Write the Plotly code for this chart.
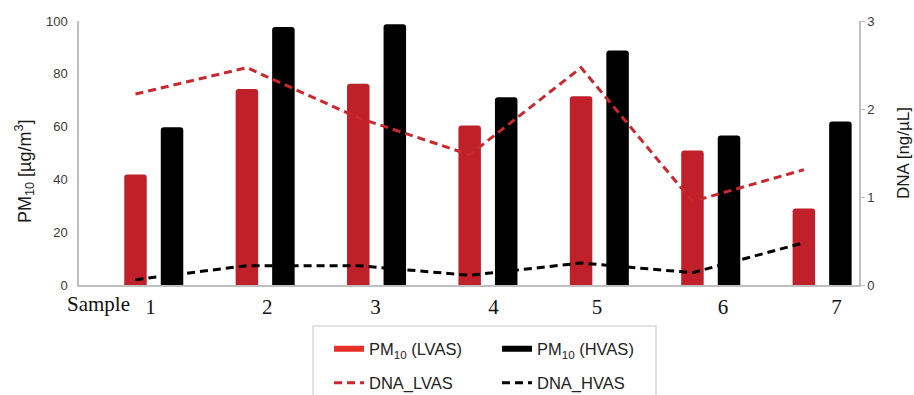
import plotly.graph_objects as go

samples = ["1", "2", "3", "4", "5", "6", "7"]
pm10_lvas = [41.9, 74.2, 76.2, 60.4, 71.5, 50.9, 29.0]
pm10_hvas = [59.8, 97.7, 98.8, 71.1, 88.8, 56.6, 61.9]
dna_lvas = [2.17, 2.47, 1.90, 1.48, 2.47, 0.95, 1.31]
dna_hvas = [0.06, 0.22, 0.22, 0.11, 0.25, 0.14, 0.48]

idx = list(range(len(samples)))
OFF = 0.164
BW = 0.202
x_l = [i - OFF for i in idx]
x_h = [i + OFF for i in idx]

RED_BAR = "#C0202A"
RED_LINE = "#C8282E"
RED_LEG = "#E8302A"
AX = "#BFBFBF"
TXT = "#3A3A3A"
H = 395.0

fig = go.Figure()
fig.add_trace(go.Bar(x=x_l, y=pm10_lvas, width=BW, marker=dict(color=RED_BAR, line=dict(width=0)),
                     showlegend=False))
fig.add_trace(go.Bar(x=x_h, y=pm10_hvas, width=BW, marker=dict(color="#000000", line=dict(width=0)),
                     showlegend=False))
fig.add_trace(go.Scatter(x=x_l, y=dna_lvas, yaxis="y2", mode="lines",
                         line=dict(color=RED_LINE, width=3, dash="8px,5px"), showlegend=False))
fig.add_trace(go.Scatter(x=x_l, y=dna_hvas, yaxis="y2", mode="lines",
                         line=dict(color="#000000", width=3, dash="8px,5px"), showlegend=False))

# legend entries
fig.add_trace(go.Scatter(x=[None], y=[None], mode="lines", name="PM<sub>10</sub> (LVAS)",
                         line=dict(color=RED_LEG, width=6), legend="legend"))
fig.add_trace(go.Scatter(x=[None], y=[None], mode="lines", name="PM<sub>10</sub> (HVAS)",
                         line=dict(color="#000000", width=6), legend="legend"))
fig.add_trace(go.Scatter(x=[None], y=[None], mode="lines", name="DNA_LVAS",
                         line=dict(color=RED_LINE, width=3, dash="8px,5px"), legend="legend2"))
fig.add_trace(go.Scatter(x=[None], y=[None], mode="lines", name="DNA_HVAS",
                         line=dict(color="#000000", width=3, dash="8px,5px"), legend="legend2"))

label_pos = [-0.03, 1.02, 1.99, 3.05, 3.98, 5.11, 6.13]

leg_common = dict(orientation="h", xanchor="left", yanchor="middle", entrywidth=123,
                  xref="container", yref="container",
                  bgcolor="rgba(0,0,0,0)", borderwidth=0,
                  font=dict(family="Liberation Sans, Arial", size=16.5, color="#222222"))

fig.update_layout(
    width=914, height=395,
    margin=dict(l=79, r=55, t=21, b=110, autoexpand=False),
    paper_bgcolor="white", plot_bgcolor="white",
    barmode="overlay", barcornerradius=3,
    font=dict(family="Liberation Sans, Arial", color=TXT),
    xaxis=dict(range=[-0.671, 6.331], showline=True, linecolor=AX, linewidth=1.5,
               showgrid=False, zeroline=False, ticks="", ticklabelstandoff=2,
               tickvals=label_pos, ticktext=samples,
               tickfont=dict(family="Liberation Serif, Times New Roman", size=21, color="#111111")),
    yaxis=dict(range=[0, 100], dtick=20, showline=True, linecolor=AX, linewidth=1.5,
               showgrid=False, zeroline=False, ticks="", ticklabelstandoff=7,
               tickfont=dict(size=13, color=TXT)),
    yaxis2=dict(range=[0, 3], tickvals=[0, 1, 2, 3], overlaying="y", side="right",
                showline=True, linecolor=AX, linewidth=1.5, showgrid=False, zeroline=False,
                ticks="outside", ticklen=4, tickcolor=AX,
                tickfont=dict(size=13, color=TXT),
                title=dict(text="DNA [ng/µL]", standoff=24,
                           font=dict(size=17, color="#1a1a1a"))),
    legend=dict(x=329 / 914, y=1 - 349 / H, **leg_common),
    legend2=dict(x=329 / 914, y=1 - 383 / H, **leg_common),
    shapes=[dict(type="rect", xref="paper", yref="paper",
                 x0=(313 - 79) / 780, x1=(656 - 79) / 780,
                 y0=-0.45, y1=(285 - 326) / 264,
                 line=dict(color="#D9D9D9", width=1.5), fillcolor="rgba(0,0,0,0)", layer="below")],
    annotations=[
        dict(text="Sample", xref="paper", yref="paper", x=(98 - 79) / 780, y=(285 - 304) / 264,
             xanchor="center", yanchor="middle", showarrow=False,
             font=dict(family="Liberation Serif, Times New Roman", size=21, color="#111111")),
        dict(text="PM<sub>10</sub> [µg/m<sup>3</sup>]", xref="paper", yref="paper",
             x=(24 - 79) / 780, y=(285 - 172) / 264, textangle=-90,
             xanchor="center", yanchor="middle", showarrow=False,
             font=dict(size=18, color="#1a1a1a")),
    ],
)

fig.write_html("out.html", config={"displayModeBar": False},
               post_script="document.body.style.margin='0';document.body.style.overflow='hidden';")
